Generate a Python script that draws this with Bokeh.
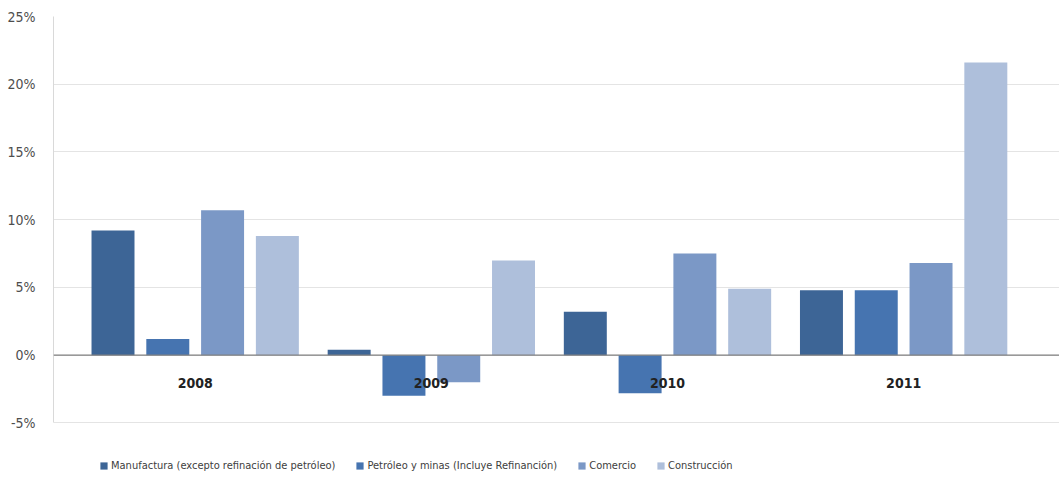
from bokeh.plotting import figure
from bokeh.models import (ColumnDataSource, Range1d, FixedTicker, NumeralTickFormatter,
                          Span, Legend, LegendItem)
from bokeh.transform import dodge
from bokeh.core.properties import value
from bokeh.embed import file_html
from bokeh.resources import INLINE

# Annual growth rates by sector
years = ["2008", "2009", "2010", "2011"]
manufactura = [0.092, 0.004, 0.032, 0.048]
petroleo = [0.012, -0.030, -0.028, 0.048]
comercio = [0.107, -0.020, 0.075, 0.068]
construccion = [0.088, 0.070, 0.049, 0.216]

series_names = [
    "Manufactura (excepto refinación de petróleo)",
    "Petróleo y minas (Incluye Refinanción)",
    "Comercio",
    "Construcción",
]
colors = ["#3d6596", "#4674b0", "#7b98c6", "#aebfdb"]
y_ticks = [-0.05, 0.0, 0.05, 0.10, 0.15, 0.20, 0.25]

FONT = "DejaVu Sans Condensed"

src = ColumnDataSource(dict(
    idx=list(range(len(years))),
    year=years,
    m=manufactura,
    p=petroleo,
    c=comercio,
    k=construccion,
))

# The frame runs to the bottom edge so the legend can sit beneath the -5% line
p = figure(width=1059, height=481, output_backend="svg", toolbar_location=None,
           x_range=Range1d(-0.60, 3.66), y_range=Range1d(-0.0932, 0.25),
           x_axis_location=None, min_border_left=53, min_border_right=0,
           min_border_top=16, min_border_bottom=0)
p.outline_line_color = None
p.background_fill_color = "white"
p.border_fill_color = "white"

bar_w = 0.182
step = 0.232
renderers = []
for i, (col, color) in enumerate(zip(["m", "p", "c", "k"], colors)):
    r = p.vbar(x=dodge("idx", (i - 1.5) * step, range=p.x_range), top=col, bottom=0,
               width=bar_w, source=src, fill_color=color, line_color=None)
    renderers.append(r)

# Zero baseline
p.add_layout(Span(location=0, dimension="width", line_color="#808080", line_width=1.2))

# Year labels just under the baseline
p.text(x="idx", y=0, text="year", source=src, y_offset=28,
       text_align="center", text_baseline="middle",
       text_font=value(FONT), text_font_size="14px", text_font_style="bold",
       text_color="#222222")

# Y axis
yax = p.yaxis[0]
yax.ticker = FixedTicker(ticks=y_ticks)
yax.formatter = NumeralTickFormatter(format="0%")
yax.bounds = (min(y_ticks), max(y_ticks))
yax.major_tick_line_color = None
yax.minor_tick_line_color = None
yax.axis_line_color = "#d9d9d9"
yax.major_label_text_font = FONT
yax.major_label_text_font_size = "14px"
yax.major_label_text_color = "#4d4d4d"
yax.major_label_standoff = 12

p.xgrid.visible = False
p.ygrid.ticker = FixedTicker(ticks=y_ticks)
p.ygrid.grid_line_color = "#e4e4e4"
p.ygrid.grid_line_width = 1

legend = Legend(
    items=[LegendItem(label=n, renderers=[r]) for n, r in zip(series_names, renderers)],
    orientation="horizontal", location=(46, 9),
    label_text_font=FONT, label_text_font_size="11px", label_text_color="#404040",
    glyph_width=9, glyph_height=9, label_standoff=3, spacing=20,
    padding=4, margin=0, border_line_color=None, background_fill_alpha=0,
)
p.add_layout(legend, "center")

open("out.html", "w").write(file_html(p, INLINE))
